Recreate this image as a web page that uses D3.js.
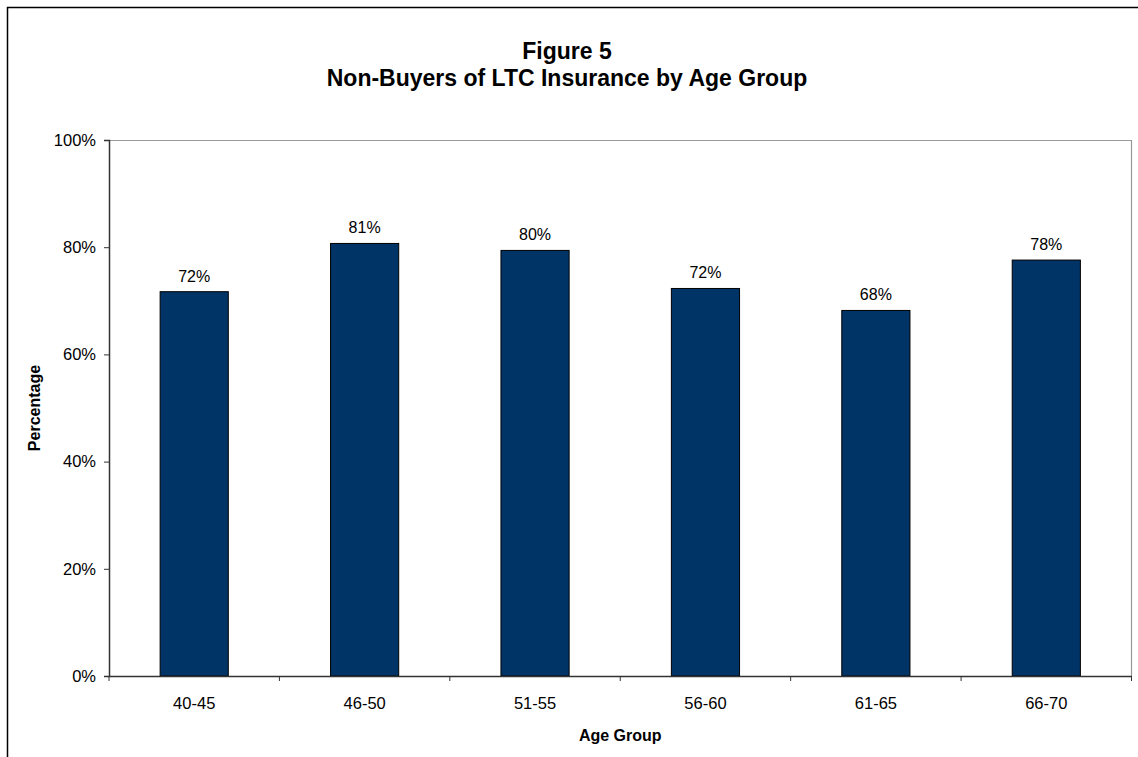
<!DOCTYPE html>
<html><head><meta charset="utf-8">
<script src="https://cdn.jsdelivr.net/npm/d3@7"></script>
<style>body{margin:0;background:#fff;} svg{display:block;font-family:"Liberation Sans",Arial,sans-serif;}</style>
</head><body>
<svg id="chart" width="1138" height="757"></svg>
<script>
const categories = ["40-45","46-50","51-55","56-60","61-65","66-70"];
const values = [71.7, 80.7, 79.4, 72.3, 68.2, 77.6];
const labels = ["72%","81%","80%","72%","68%","78%"];
const yTicks = [0,20,40,60,80,100];
const titleLines = ["Figure 5","Non-Buyers of LTC Insurance by Age Group"];

const svg = d3.select("#chart");
const L = 109, R = 1131.5, T = 140, B = 676;
const FONT = "Liberation Sans, Arial, sans-serif";

// outer frame
svg.append("rect").attr("x",7.5).attr("y",7.5).attr("width",1140).attr("height",760)
  .attr("fill","none").attr("stroke","#000").attr("stroke-width",1.5);

const x = d3.scaleBand().domain(categories).range([L,R]).paddingInner(0.6).paddingOuter(0.3);
const xb = d3.scaleBand().domain(categories).range([L,R]);
const y = d3.scaleLinear().domain([0,100]).range([B,T]);

// plot border top/right
svg.append("path").attr("d",`M${L},${T+0.5}H${R}V${B}`).attr("fill","none").attr("stroke","#999").attr("stroke-width",1.2);

// bars
svg.selectAll("rect.bar").data(values).join("rect").attr("class","bar")
  .attr("x",(d,i)=>x(categories[i])).attr("width",x.bandwidth())
  .attr("y",d=>y(d)).attr("height",d=>B-y(d))
  .attr("fill","#003366").attr("stroke","#000").attr("stroke-width",1);

// value labels
svg.selectAll("text.val").data(values).join("text").attr("class","val")
  .attr("x",(d,i)=>x(categories[i])+x.bandwidth()/2).attr("y",d=>y(d)-10)
  .attr("text-anchor","middle").attr("font-size",16).attr("fill","#000")
  .text((d,i)=>labels[i]);

// y axis
const ya = svg.append("g").attr("transform",`translate(${L},0)`)
  .call(d3.axisLeft(y).tickValues(yTicks).tickFormat(d=>d+"%").tickSize(5).tickPadding(8));
ya.select(".domain").attr("stroke","#333").attr("stroke-width",1.5);
ya.selectAll(".tick line").attr("stroke","#333");
ya.selectAll("text").attr("font-size",16.5).attr("fill","#000").attr("font-family",FONT);

// x axis
const xa = svg.append("g").attr("transform",`translate(0,${B})`)
  .call(d3.axisBottom(xb).tickSize(0).tickPadding(21));
xa.select(".domain").attr("stroke","#333").attr("stroke-width",1.5);
xa.selectAll("text").attr("font-size",16.5).attr("fill","#000").attr("font-family",FONT);
// boundary ticks
const bounds = categories.map(c=>xb(c)).concat([R]);
svg.selectAll("line.xt").data(bounds).join("line").attr("class","xt")
  .attr("x1",d=>d).attr("x2",d=>d).attr("y1",B).attr("y2",B+5).attr("stroke","#333");

// titles
svg.selectAll("text.title").data(titleLines).join("text").attr("class","title")
  .attr("x",567).attr("y",(d,i)=>59+i*27).attr("text-anchor","middle")
  .attr("font-size",23).attr("font-weight","bold").attr("fill","#000").text(d=>d);

svg.append("text").attr("x",(L+R)/2).attr("y",741).attr("text-anchor","middle")
  .attr("font-size",16).attr("font-weight","bold").text("Age Group");
svg.append("text").attr("transform",`translate(40,${(T+B)/2}) rotate(-90)`).attr("text-anchor","middle")
  .attr("font-size",16).attr("font-weight","bold").text("Percentage");
</script>
</body></html>
